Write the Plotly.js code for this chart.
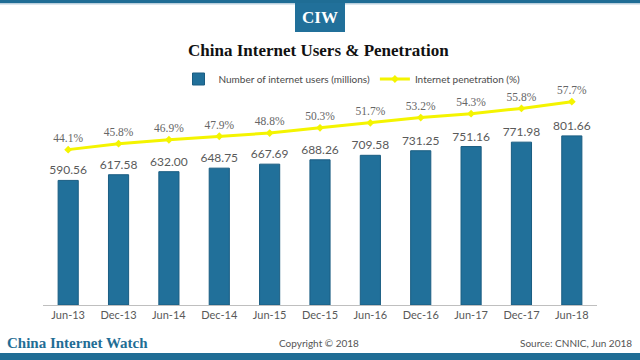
<!DOCTYPE html>
<html><head><meta charset="utf-8">
<script src="https://cdn.plot.ly/plotly-3.0.1.min.js"></script>
<style>html,body{margin:0;padding:0;background:#fff;}#chart{width:640px;height:360px;}</style>
</head><body><div id="chart"></div>
<script>
const categories = ["Jun-13","Dec-13","Jun-14","Dec-14","Jun-15","Dec-15","Jun-16","Dec-16","Jun-17","Dec-17","Jun-18"];
const users = [590.56,617.58,632.00,648.75,667.69,688.26,709.58,731.25,751.16,771.98,801.66];
const penetration = [44.1,45.8,46.9,47.9,48.8,50.3,51.7,53.2,54.3,55.8,57.7];

const W=640,H=360,L=43,R=43,T=70,B=55;
const pw=W-L-R, ph=H-T-B;
const px=x=>(x-L)/pw, py=y=>(H-B-y)/ph;
const blue="#21709a";

const traces=[
 {type:"bar",x:categories,y:users,name:"Number of internet users (millions)",
  marker:{color:blue,line:{color:"#1a5d82",width:1}},width:0.4,
  text:users.map(v=>v.toFixed(2)),textposition:"outside",cliponaxis:false,constraintext:"none",
  textfont:{family:"Lato",size:12,color:"#5a5a5a"},hoverinfo:"none"},
 {type:"scatter",mode:"lines+markers+text",x:categories,y:penetration,yaxis:"y2",
  name:"Internet penetration (%)",line:{color:"#f4f400",width:3},
  marker:{color:"#f4f400",size:6,symbol:"diamond"},
  text:penetration.map(v=>v.toFixed(1)+"%"),textposition:"top center",cliponaxis:false,
  textfont:{family:"Liberation Serif",size:11.5,color:"#666666"},hoverinfo:"none"}
];

const layout={
 width:W,height:H,margin:{l:L,r:R,t:T,b:B},paper_bgcolor:"#fff",plot_bgcolor:"#fff",
 showlegend:true,
 xaxis:{type:"category",range:[-0.5,10.5],showline:true,linecolor:"#bfbfbf",linewidth:1,
   ticks:"",showgrid:false,zeroline:false,tickfont:{family:"Lato",size:11,color:"#595959"}},
 yaxis:{range:[0,1114],visible:false,showgrid:false,zeroline:false},
 yaxis2:{range:[0,66.7],overlaying:"y",visible:false,showgrid:false,zeroline:false},
 legend:{orientation:"h",x:px(352),xanchor:"center",y:py(79),yanchor:"middle",
   font:{family:"Lato",size:10,color:"#4a4a4a"},bgcolor:"rgba(0,0,0,0)",itemwidth:30,tracegroupgap:0},
 shapes:[
  {type:"rect",xref:"paper",yref:"paper",x0:px(0),x1:px(640),y0:py(0),y1:py(3),fillcolor:"#1f6d95",line:{width:0},layer:"above"},
  {type:"rect",xref:"paper",yref:"paper",x0:px(0),x1:px(640),y0:py(3),y1:py(4.5),fillcolor:"#b9cfdd",line:{width:0},layer:"above"},
  {type:"rect",xref:"paper",yref:"paper",x0:px(295),x1:px(345),y0:py(3),y1:py(32),fillcolor:"#21709a",line:{width:0},layer:"above"},
  {type:"rect",xref:"paper",yref:"paper",x0:px(0),x1:px(640),y0:py(353),y1:py(360),fillcolor:"#1f6d95",line:{width:0},layer:"above"}
 ],
 annotations:[
  {text:"<b>CIW</b>",xref:"paper",yref:"paper",x:px(320),y:py(18),xanchor:"center",yanchor:"middle",showarrow:false,
   font:{family:"Liberation Serif",size:17,color:"#ffffff"}},
  {text:"<b>China Internet Users &amp; Penetration</b>",xref:"paper",yref:"paper",x:px(318),y:py(50),xanchor:"center",yanchor:"middle",showarrow:false,
   font:{family:"Liberation Serif",size:17,color:"#111111"}},
  {text:"<b>China Internet Watch</b>",xref:"paper",yref:"paper",x:px(5),y:py(343),xanchor:"left",yanchor:"middle",showarrow:false,
   font:{family:"Liberation Serif",size:15,color:"#1f6d95"}},
  {text:"Copyright © 2018",xref:"paper",yref:"paper",x:px(319),y:py(343),xanchor:"center",yanchor:"middle",showarrow:false,
   font:{family:"Lato",size:10,color:"#555555"}},
  {text:"Source: CNNIC, Jun 2018",xref:"paper",yref:"paper",x:px(634),y:py(343),xanchor:"right",yanchor:"middle",showarrow:false,
   font:{family:"Lato",size:10,color:"#555555"}}
 ]
};
Plotly.newPlot("chart",traces,layout,{displayModeBar:false,staticPlot:true});
</script></body></html>
